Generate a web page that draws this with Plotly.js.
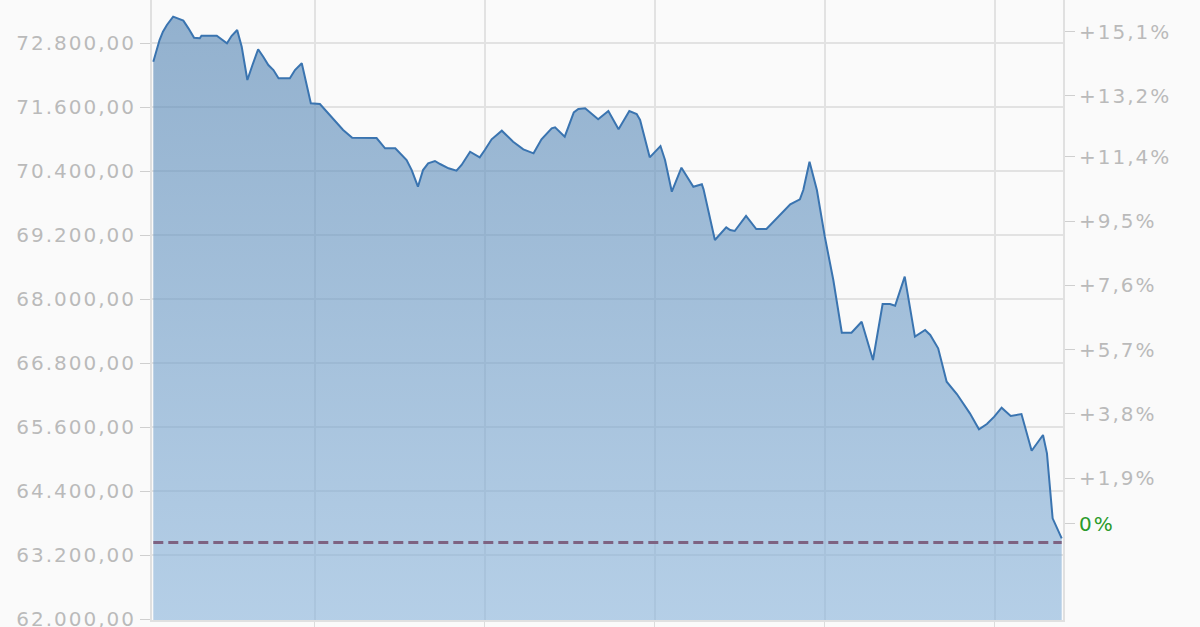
<!DOCTYPE html>
<html><head><meta charset="utf-8">
<script src="https://cdn.plot.ly/plotly-3.0.1.min.js"></script>
<style>
html,body{margin:0;padding:0;background:#fafafa;}
#chart{width:1200px;height:627px;}
.ytick text,.y2tick text{letter-spacing:2px;}
</style></head>
<body><div id="chart"></div>
<script>
// Day offsets (x) and closing prices
const days = [0,1.1,1.7,2.4,3.5,4.7,5.3,6.2,7.2,8.2,
  8.5,11.2,12.1,13.0,13.8,14.8,15.6,16.6,17.5,18.5,
  19.4,20.3,21.2,22.1,24.1,25.0,26.2,26.9,27.8,29.4,
  30.6,32.1,33.5,35.1,39.4,40.9,42.7,44.7,45.6,46.7,
  47.6,48.5,49.7,50.6,52.1,53.5,54.4,55.9,56.8,57.6,
  58.5,59.7,61.5,63.5,65.3,67.1,68.5,70.3,70.9,72.6,
  74.2,75.0,76.2,78.5,80.3,82.1,84.0,85.3,85.9,87.6,
  89.5,90.3,91.5,93.2,95.3,96.8,97.1,99.1,101.1,101.8,
  102.6,104.6,106.4,108.2,112.4,114.1,114.7,115.8,117.1,118.5,
  120.0,121.5,123.2,125.0,127.0,128.7,130.0,130.9,132.6,134.4,
  136.2,137.1,138.5,140.0,141.8,144.1,145.7,147.1,148.4,149.7,
  151.3,153.2,155.0,157.0,157.7,158.7,160.3];
const prices = [72455,72862,73018,73143,73299,73256,73224,73081,72905,72894,
  72943,72943,72875,72800,72937,73049,72736,72112,72393,72688,
  72549,72393,72299,72144,72144,72299,72425,72112,71675,71662,
  71517,71349,71174,71030,71024,70831,70831,70612,70424,70111,
  70424,70550,70593,70537,70456,70411,70518,70767,70706,70662,
  70799,71000,71161,70955,70812,70737,71000,71206,71225,71049,
  71506,71568,71581,71375,71531,71187,71531,71474,71362,70662,
  70874,70612,70017,70467,70111,70156,70062,69112,69350,69299,
  69281,69562,69318,69318,69781,69875,70049,70580,70049,69174,
  68362,67374,67374,67580,66862,67912,67912,67880,68424,67299,
  67424,67331,67081,66455,66224,65862,65562,65662,65799,65967,
  65812,65849,65161,65456,65112,63894,63519];
const baseline = 63440;
const leftTicks = [62000,63200,64400,65600,66800,68000,69200,70400,71600,72800];
const leftLabels = ['62.000,00','63.200,00','64.400,00','65.600,00','66.800,00','68.000,00','69.200,00','70.400,00','71.600,00','72.800,00'];
const pctTicks = [0,1.9,3.8,5.7,7.6,9.5,11.4,13.2,15.1];
const pctLabels = ['0%','+1,9%','+3,8%','+5,7%','+7,6%','+9,5%','+11,4%','+13,2%','+15,1%'];

const yRange = [61987, 73612];
const plotH = 620;
const zeroShift = 19 * (yRange[1]-yRange[0]) / plotH; // 0% label sits slightly above its line
const pctVals = pctTicks.map(p => p === 0 ? baseline + zeroShift : baseline*(1+p/100));
const pctText = pctLabels.map((t,i) => pctTicks[i] === 0 ? '<span style="color:#2a9a2a">'+t+'</span>' : t);

const tickFont = {family:'DejaVu Sans, Verdana, sans-serif', size:20, color:'#bababa'};

const traces = [
  {x: days, y: prices, type:'scatter', mode:'lines',
   line:{color:'#3a74b0', width:2},
   fill:'tozeroy',
   fillcolor:'rgba(100,150,195,0.6)',
   fillgradient:{type:'vertical', start:62000, stop:73600,
     colorscale:[[0,'rgba(138,180,219,0.62)'],[1,'rgba(82,131,178,0.62)']]},
   hoverinfo:'skip', showlegend:false},
  {x:[days[0], days[days.length-1]], y:[baseline, baseline], yaxis:'y2', type:'scatter', mode:'lines',
   line:{color:'#7e6382', width:3, dash:'10px,5px'}, hoverinfo:'skip', showlegend:false}
];

const layout = {
  width:1200, height:627,
  margin:{l:152, r:137, t:0, b:7},
  paper_bgcolor:'#fafafa', plot_bgcolor:'#fafafa',
  xaxis:{range:[-0.23,160.53], tick0:28.5, dtick:30, showticklabels:false,
    showgrid:true, gridcolor:'#e2e2e2', gridwidth:2, zeroline:false,
    ticks:'outside', ticklen:7, tickcolor:'#dcdcdc', showline:true, linecolor:'#e0e0e0', linewidth:2, fixedrange:true},
  yaxis:{range:yRange, tickmode:'array', tickvals:leftTicks, ticktext:leftLabels,
    showgrid:true, gridcolor:'#e2e2e2', gridwidth:2, zeroline:false,
    ticks:'outside', ticklen:10, tickcolor:'#cfcfcf', tickwidth:1, ticklabeloverflow:'allow',
    showline:true, linecolor:'#e0e0e0', linewidth:2, tickfont:tickFont, fixedrange:true},
  yaxis2:{range:yRange, overlaying:'y', side:'right', tickmode:'array', tickvals:pctVals, ticktext:pctText,
    showgrid:false, zeroline:false, ticks:'outside', ticklen:10, tickcolor:'#cfcfcf', tickwidth:1,
    showline:true, linecolor:'#e0e0e0', linewidth:2, tickfont:tickFont, fixedrange:true}
};

Plotly.newPlot('chart', traces, layout, {displayModeBar:false, staticPlot:true});
</script>
</body></html>
